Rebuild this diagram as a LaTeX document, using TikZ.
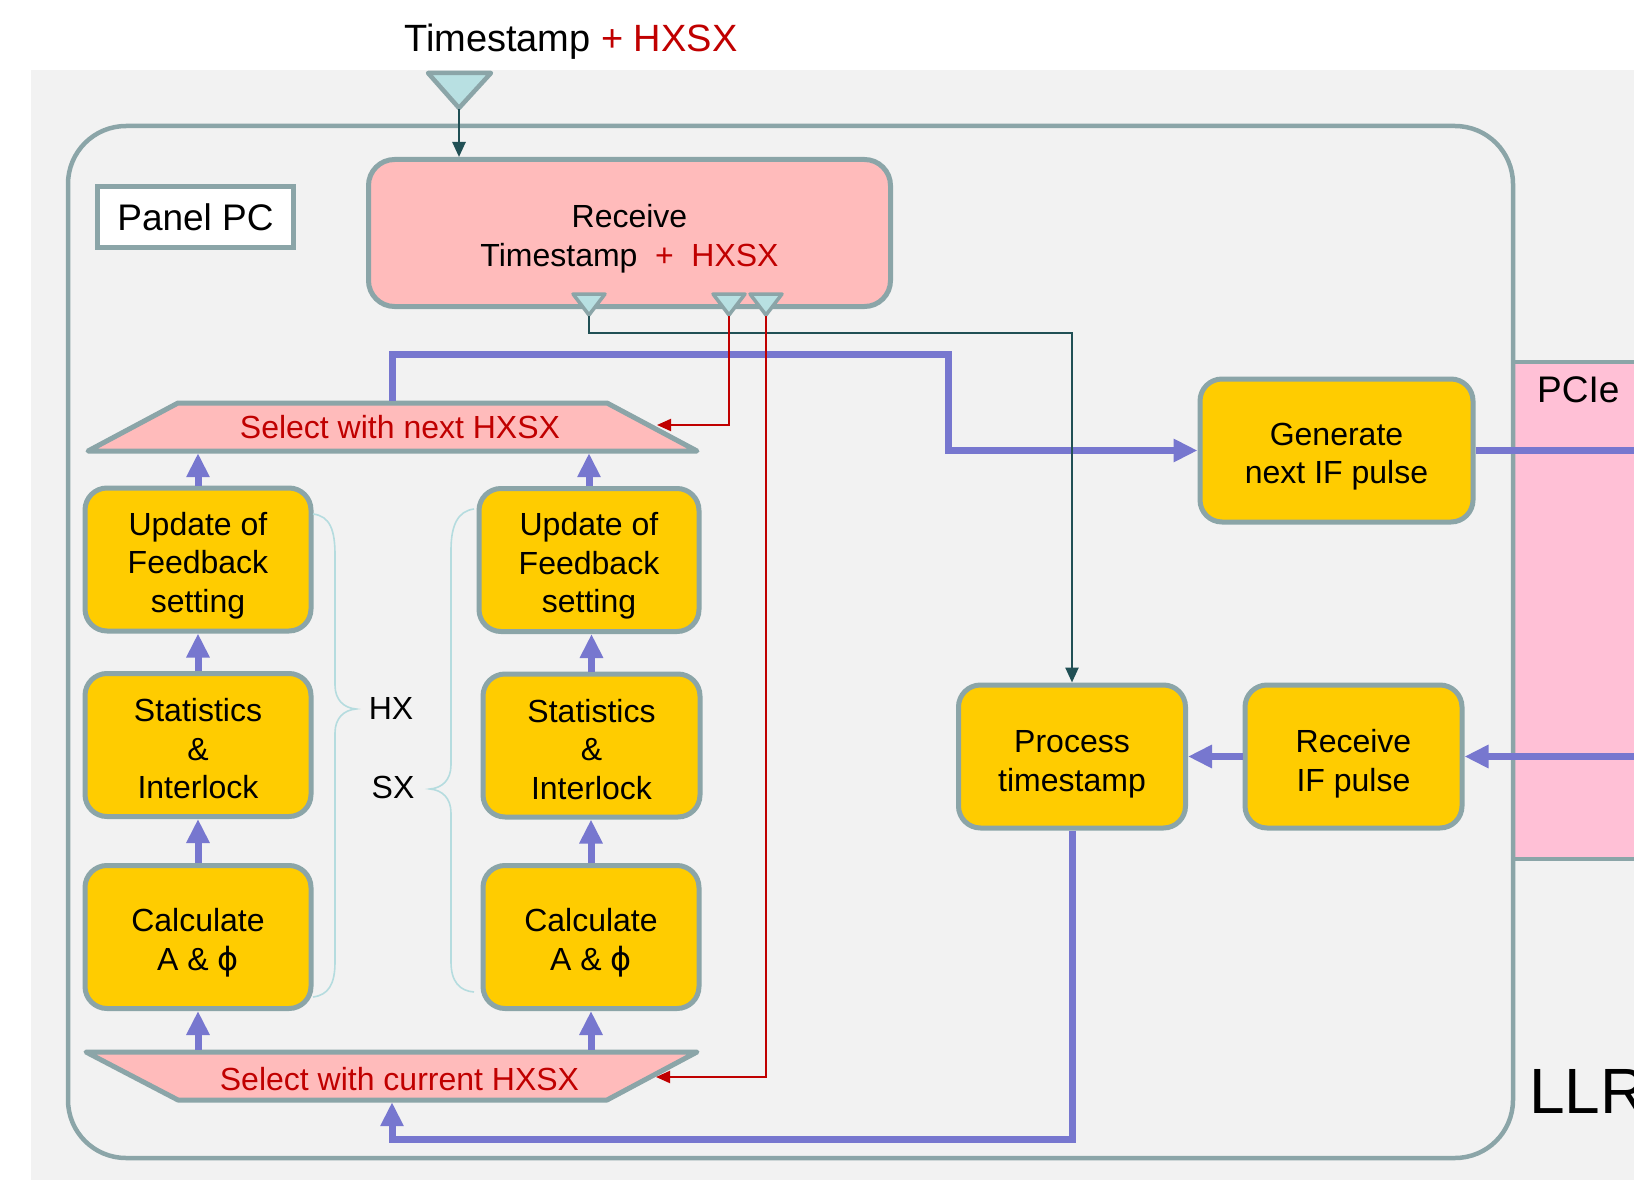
\documentclass[tikz,border=0pt]{standalone}
\usepackage{fontspec}
\setmainfont{Liberation Sans}
\newfontfamily\symf{DejaVu Sans}
\usetikzlibrary{arrows.meta}
\definecolor{bordc}{HTML}{8BA5A8}
\definecolor{yell}{HTML}{FFCC00}
\definecolor{pinkf}{HTML}{FFBBBB}
\definecolor{pcief}{HTML}{FFC0D6}
\definecolor{bgg}{HTML}{F2F2F2}
\definecolor{bluel}{HTML}{7777CF}
\definecolor{darkt}{HTML}{215055}
\definecolor{redl}{HTML}{C00000}
\definecolor{bracec}{HTML}{B5DCDF}
\definecolor{trif}{HTML}{B8E0E2}
\newcommand{\dropstrut}[1]{\rule{0pt}{#1pt}}
\begin{document}
\begin{tikzpicture}[x=1pt,y=-1pt,
 ybox/.style={draw=bordc, line width=5pt, fill=yell, rounded corners=22pt, align=center, inner sep=0pt, font=\fontsize{32}{38.5}\selectfont, text=black, minimum height=143pt},
 bluearr/.style={draw=bluel, line width=7pt, -{Triangle[length=24pt,width=22pt]}},
 blueln/.style={draw=bluel, line width=7pt},
 darkarr/.style={draw=darkt, line width=2.5pt, -{Triangle[length=15pt,width=13pt]}},
 redarr/.style={draw=redl, line width=2pt, -{Triangle[length=14pt,width=12pt]}},
 tri/.style={draw=bordc, fill=trif, line width=4pt, line join=round},
 brc/.style={draw=bracec, line width=1.6pt},
 trap/.style={draw=bordc, fill=pinkf, line width=5pt, line join=round},
 lbl/.style={inner sep=0pt, font=\fontsize{32}{38.5}\selectfont}
]
\useasboundingbox (0,0) rectangle (1634,1180);
% background
\fill[bgg] (31,70) rectangle (1700,1200);
% PCIe block
\draw[draw=bordc, fill=pcief, line width=4.5pt] (1513,362) rectangle (1700,859);
% outer container
\draw[draw=bordc, line width=4.5pt, rounded corners=58pt] (68,126) rectangle (1513,1158);

% labels
\node[draw=bordc, fill=white, line width=4.5pt, minimum width=196pt, minimum height=61pt, inner sep=0pt, font=\fontsize{37}{40}\selectfont] (panel) at (195.5,217) {Panel PC};
\node[anchor=base west, inner sep=0pt, font=\fontsize{38}{40}\selectfont] (toptxt) at (404,52) {Timestamp \textcolor{redl}{+ HXSX}};
\node[anchor=base west, inner sep=0pt, font=\fontsize{37}{40}\selectfont] (pcie) at (1537,402) {PCIe};
\node[anchor=base west, inner sep=0pt, font=\fontsize{64}{66}\selectfont] (llr) at (1529,1113) {LLR};

% top input triangle
\draw[tri, line width=4.5pt] (428,73) -- (491,73) -- (459,108) -- cycle;
\coordinate (tTop) at (459,109);

% receive box
\node[draw=bordc, line width=5pt, fill=pinkf, rounded corners=26pt, minimum width=522pt, minimum height=147pt, align=center, inner sep=0pt, font=\fontsize{32}{38.5}\selectfont] (recv) at (629.5,233) {\dropstrut{35}Receive\\Timestamp\hspace{0.55em}\textcolor{redl}{+\hspace{0.55em}HXSX}};

% small output triangles
\foreach \c/\n in {589/tA,729/tB,766/tC}{
  \draw[tri, line width=3.5pt] (\c-16,294) -- (\c+16,294) -- (\c,315) -- cycle;
  \coordinate (\n) at (\c,316);
}

% trapezoids
\draw[trap] (178,403) -- (607,403) -- (697,451) -- (88,451) -- cycle;
\node[lbl, text=redl, minimum width=615pt, minimum height=52pt] (selnext) at (392.5,427) {\hspace{15pt}Select with next HXSX};
\draw[trap] (86,1052) -- (697,1052) -- (607,1100) -- (178,1100) -- cycle;
\node[lbl, text=redl, minimum width=615pt, minimum height=52pt] (selcur) at (392,1076) {\hspace{15pt}\dropstrut{29}Select with current HXSX};

% column boxes
\node[ybox, minimum width=226pt] (updL) at (198,559.5) {\dropstrut{35}Update of\\Feedback\\setting};
\node[ybox, minimum width=226pt] (statL) at (198,745) {\dropstrut{31}Statistics\\\&\\Interlock};
\node[ybox, minimum width=226pt] (calcL) at (198,937) {\dropstrut{35}Calculate\\A \& {\symf ϕ}};
\node[ybox, minimum width=220pt] (updR) at (589,560) {\dropstrut{35}Update of\\Feedback\\setting};
\node[ybox, minimum width=217pt] (statR) at (591.5,745.5) {\dropstrut{31}Statistics\\\&\\Interlock};
\node[ybox, minimum width=216pt] (calcR) at (591,937) {\dropstrut{35}Calculate\\A \& {\symf ϕ}};

% right boxes
\node[ybox, minimum width=273pt] (gen) at (1336.5,450.5) {\dropstrut{35}Generate\\next IF pulse};
\node[ybox, minimum width=227pt] (proc) at (1072,756.5) {\dropstrut{38}Process\\timestamp};
\node[ybox, minimum width=217pt] (recvif) at (1353.5,756.5) {\dropstrut{38}Receive\\IF pulse};

% braces
\draw[brc] (313,514) .. controls (330,516) and (335,530) .. (335,555) -- (335,685) .. controls (335,700) and (344,708) .. (356,709) .. controls (344,710) and (335,718) .. (335,733) -- (335,962) .. controls (335,985) and (328,995) .. (313,997);
\draw[brc] (474,509) .. controls (458,511) and (451,525) .. (451,550) -- (451,765) .. controls (451,780) and (442,788) .. (430,789) .. controls (442,790) and (451,798) .. (451,813) -- (451,962) .. controls (451,982) and (460,991) .. (474,992);
\node[lbl] (hx) at (391,708) {HX};
\node[lbl] (sx) at (393,787) {SX};

% blue flows
\draw[bluearr] (selcur.north -| calcL) -- (calcL.south);
\draw[bluearr] (calcL.north) -- (statL.south);
\draw[bluearr] (statL.north) -- (updL.south);
\draw[bluearr] (updL.north) -- (updL.north |- selnext.south);
\draw[bluearr] (selcur.north -| calcR) -- (calcR.south);
\draw[bluearr] (calcR.north) -- (calcR.north |- statR.south);
\draw[bluearr] (statR.north) -- (statR.north |- updR.south);
\draw[bluearr] (updR.north) -- (updR.north |- selnext.south);
\draw[bluearr] (selnext.north) |- (948,354) |- (gen.west);
\coordinate (pcieOut) at (1640,450.5);
\draw[blueln] (gen.east) -- (pcieOut);
\coordinate (pcieIn) at (1640,756.5);
\draw[bluearr] (pcieIn) -- (recvif.east);
\draw[bluearr] (recvif.west) -- (proc.east);
\draw[bluearr] (proc.south) -- ++(0,309) -| (selcur.south);

% thin signal lines
\draw[darkarr] (tTop) -- (tTop |- recv.north);
\draw[darkarr] (tA) -- ++(0,17) -| (proc.north);
\coordinate (snR) at (657,425);
\draw[redarr] (tB) |- (snR);
\coordinate (scR) at (656,1077);
\draw[redarr] (tC) |- (scR);
\end{tikzpicture}
\end{document}
